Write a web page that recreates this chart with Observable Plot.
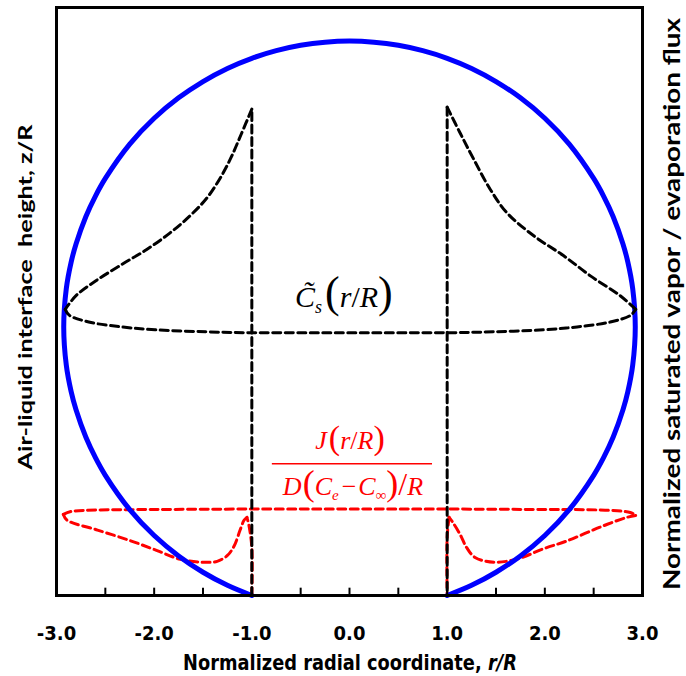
<!DOCTYPE html>
<html><head><meta charset="utf-8">
<script src="https://cdn.jsdelivr.net/npm/d3@7"></script>
<script src="https://cdn.jsdelivr.net/npm/@observablehq/plot@0.6"></script>
<style>
html,body{margin:0;padding:0;background:#fff;}
#chart{width:686px;height:676px;}
g[aria-label="x-axis tick label"] text{font-family:'Liberation Sans Narrow','Arial Narrow','DejaVu Sans',sans-serif;font-stretch:condensed;font-weight:bold;font-size:20px;fill:#000;}
</style></head><body><div id="chart"></div>
<script>
// ---- tick values / labels ----
const xTicks = [-3, -2, -1, 0, 1, 2, 3];
const xTickLabels = ["-3.0", "-2.0", "-1.0", "0.0", "1.0", "2.0", "3.0"];
const xMinorTicks = [-2.5, -2, -1.5, -1, -0.5, 0, 0.5, 1, 1.5, 2, 2.5];

// ---- droplet air-liquid interface (blue), r/R and z/R ----
const dropR = [-1.0, -1.25, -1.5, -1.75, -2.0, -2.25, -2.5, -2.6, -2.7, -2.8, -2.85, -2.9, -2.926,
  -2.9, -2.85, -2.8, -2.7, -2.6, -2.5, -2.25, -2.0, -1.75, -1.5, -1.25, -1.0, -0.75, -0.5, -0.25, 0,
  0.25, 0.5, 0.75, 1.0, 1.25, 1.5, 1.75, 2.0, 2.25, 2.5, 2.6, 2.7, 2.8, 2.85, 2.9, 2.926,
  2.9, 2.85, 2.8, 2.7, 2.6, 2.5, 2.25, 2.0, 1.75, 1.5, 1.25, 1.0];
const dropZ = [0.0, 0.104, 0.238, 0.405, 0.614, 0.879, 1.230, 1.408, 1.622, 1.901, 2.087, 2.361, 2.75,
  3.139, 3.413, 3.599, 3.878, 4.092, 4.270, 4.621, 4.886, 5.095, 5.262, 5.396, 5.50, 5.578, 5.633, 5.665, 5.676,
  5.665, 5.633, 5.578, 5.50, 5.396, 5.262, 5.095, 4.886, 4.621, 4.270, 4.092, 3.878, 3.599, 3.413, 3.139, 2.75,
  2.361, 2.087, 1.901, 1.622, 1.408, 1.230, 0.879, 0.614, 0.405, 0.238, 0.104, 0.0];

// ---- normalized saturated vapor Cs (black dashed), split into pieces ----
const csPart = [0, 0,
  1, 1, 1, 1, 1, 1, 1, 1, 1, 1, 1, 1,
  2, 2, 2, 2, 2, 2, 2, 2, 2, 2, 2, 2, 2, 2, 2, 2, 2,
  3, 3, 3, 3, 3, 3, 3, 3, 3, 3,
  4, 4];
const csR = [-1.0, -1.0,
  -1.0, -1.11, -1.21, -1.32, -1.46, -1.63, -1.84, -2.08, -2.33, -2.60, -2.80, -2.91,
  -2.91, -2.87, -2.67, -2.33, -1.99, -1.47, -1.0, -0.5, 0, 0.5, 1.0, 1.47, 1.99, 2.33, 2.67, 2.88, 2.93,
  2.93, 2.77, 2.47, 2.19, 1.89, 1.61, 1.44, 1.27, 1.13, 1.0,
  1.0, 1.0];
const csZ = [0.0, 4.98,
  4.98, 4.72, 4.49, 4.28, 4.07, 3.89, 3.71, 3.54, 3.39, 3.22, 3.07, 2.93,
  2.93, 2.87, 2.80, 2.75, 2.72, 2.70, 2.69, 2.69, 2.69, 2.69, 2.69, 2.70, 2.72, 2.75, 2.80, 2.87, 2.93,
  2.93, 3.07, 3.27, 3.48, 3.68, 3.92, 4.16, 4.47, 4.74, 5.0,
  5.0, 0.0];

// ---- evaporation flux J (red dashed), split into pieces ----
const jPart = [0, 0, 0, 0,
  1, 1, 1, 1, 1, 1, 1, 1, 1, 1, 1, 1, 1,
  2, 2, 2, 2, 2, 2, 2, 2, 2, 2, 2,
  3, 3, 3, 3, 3, 3, 3, 3, 3, 3, 3, 3,
  4, 4, 4];
const jR = [-1.0, -1.0, -1.03, -1.05,
  -1.05, -1.08, -1.12, -1.18, -1.25, -1.355, -1.49, -1.73, -1.97, -2.24, -2.58, -2.89, -2.93,
  -2.93, -2.85, -2.58, -2.0, -1.0, 0, 1.0, 2.0, 2.565, 2.875, 2.93,
  2.93, 2.84, 2.565, 2.23, 1.99, 1.72, 1.48, 1.285, 1.2, 1.13, 1.05, 1.02,
  1.02, 1.0, 1.0];
const jZ = [0.0, 0.49, 0.72, 0.80,
  0.80, 0.77, 0.67, 0.51, 0.41, 0.35, 0.34, 0.37, 0.46, 0.56, 0.67, 0.77, 0.83,
  0.83, 0.86, 0.875, 0.88, 0.885, 0.885, 0.885, 0.88, 0.875, 0.85, 0.82,
  0.82, 0.80, 0.70, 0.56, 0.48, 0.375, 0.34, 0.39, 0.49, 0.63, 0.76, 0.80,
  0.80, 0.6, 0.0];

const drop = dropR.map((r, i) => ({r, z: dropZ[i]}));
const cs = csR.map((r, i) => ({r, z: csZ[i], part: csPart[i]}));
const jf = jR.map((r, i) => ({r, z: jZ[i], part: jPart[i]}));

const plot = Plot.plot({
  width: 686, height: 676,
  marginLeft: 56, marginRight: 44, marginTop: 7, marginBottom: 81,
  style: {background: "white", overflow: "visible"},
  x: {domain: [-3, 3]},
  y: {domain: [0, 6.02], axis: null},
  marks: [
    Plot.line(jf, {x: "r", y: "z", z: "part", stroke: "#ff0000", strokeWidth: 3, strokeDasharray: "8,4.5", curve: "catmull-rom"}),
    Plot.line(drop, {x: "r", y: "z", stroke: "#0000ff", strokeWidth: 5, curve: "catmull-rom"}),
    Plot.line(cs, {x: "r", y: "z", z: "part", stroke: "#000", strokeWidth: 3, strokeDasharray: "8,4.5", curve: "catmull-rom"}),
    Plot.ruleY([1.35], {x1: -0.79, x2: 0.85, stroke: "#ff0000", strokeWidth: 1.5}),
    Plot.ruleX(xMinorTicks, {x: d => d, y1: 0, y2: 0.075, stroke: "#000", strokeWidth: 2}),
    Plot.axisX(xTicks, {tickSize: 0, tickPadding: 30, tickFormat: d => xTickLabels[xTicks.indexOf(d)], label: null}),
    Plot.frame({stroke: "#000", strokeWidth: 3})
  ]
});
document.getElementById("chart").appendChild(plot);

const svg = d3.select(plot);
const serif = "'Liberation Serif','Times New Roman',serif";
function rich(x, y, anchor, color, parts) {
  const t = svg.append("text").attr("x", x).attr("y", y).attr("text-anchor", anchor)
    .attr("fill", color).attr("font-family", serif);
  for (const p of parts) {
    const s = t.append("tspan").attr("font-size", p.size).text(p.t);
    if (p.it) s.attr("font-style", "italic");
    if (p.dy) s.attr("dy", p.dy);
    if (p.dx) s.attr("dx", p.dx);
  }
  return t;
}
// Cs label: C with combining tilde
rich(295, 307, "start", "#000", [
  {t: "C\u0303", size: 30, it: 1},
  {t: "s", size: 18, it: 1, dy: 6},
  {t: "(", size: 44, dy: -6, dx: 3},
  {t: "r", size: 30, it: 1},
  {t: "/", size: 30},
  {t: "R", size: 30, it: 1},
  {t: ")", size: 44}
]);
// J numerator
rich(350, 449, "middle", "#ff0000", [
  {t: "J", size: 26, it: 1},
  {t: "(", size: 34, dx: 2},
  {t: "r", size: 26, it: 1},
  {t: "/", size: 26},
  {t: "R", size: 26, it: 1},
  {t: ")", size: 34}
]);
// J denominator
rich(353, 495, "middle", "#ff0000", [
  {t: "D", size: 26, it: 1},
  {t: "(", size: 36, dx: 1},
  {t: "C", size: 26, it: 1},
  {t: "e", size: 15, it: 1, dy: 5},
  {t: "\u2212", size: 26, dy: -5, dx: 3},
  {t: "C", size: 26, it: 1, dx: 2},
  {t: "\u221e", size: 15, dy: 5},
  {t: ")", size: 36, dy: -5},
  {t: "/", size: 32},
  {t: "R", size: 26, it: 1}
]);

// axis titles
const xl = svg.append("text").attr("x", 0).attr("y", 0).attr("text-anchor", "middle")
  .attr("font-family", "'Liberation Sans Narrow','Arial Narrow','DejaVu Sans',sans-serif")
  .attr("font-weight", "bold").attr("font-size", 22).attr("fill", "#000");
xl.append("tspan").text("Normalized radial coordinate, ");
xl.append("tspan").attr("font-style", "italic").text("r/R");
const xlw = xl.node().getComputedTextLength() || 334;
xl.attr("transform", `translate(350,670) scale(${334 / xlw},1)`);

svg.append("text").attr("transform", "translate(26,297) rotate(-90)").attr("text-anchor", "middle")
  .attr("dy", "0.35em").attr("font-family", "Lato, 'Open Sans', sans-serif").attr("font-weight", "bold")
  .attr("font-size", 18).attr("fill", "#000").attr("textLength", 345).attr("lengthAdjust", "spacingAndGlyphs")
  .text("Air-liquid interface  height, z/R");

svg.append("text").attr("transform", "translate(672,304) rotate(-90)").attr("text-anchor", "middle")
  .attr("dy", "0.35em").attr("font-family", "Lato, 'Open Sans', sans-serif").attr("font-weight", "bold")
  .attr("font-size", 22).attr("fill", "#000").attr("textLength", 572).attr("lengthAdjust", "spacingAndGlyphs")
  .text("Normalized saturated vapor / evaporation flux");
</script>
</body></html>
